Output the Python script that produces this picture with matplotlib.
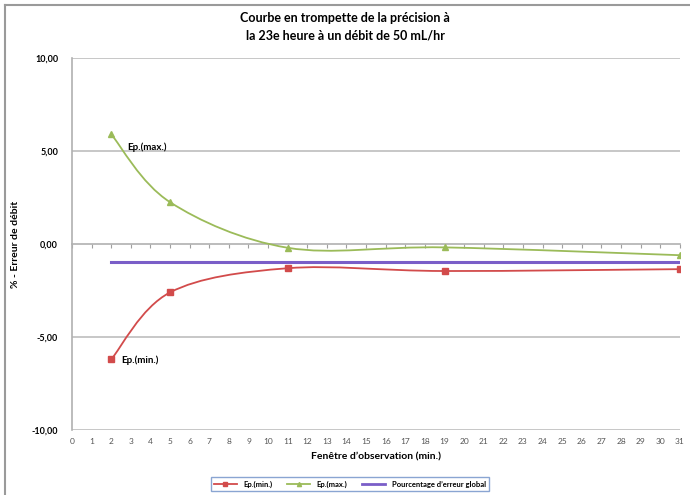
import numpy as np
import matplotlib.pyplot as plt
from matplotlib.path import Path
from matplotlib.patches import PathPatch
from matplotlib.lines import Line2D

plt.rcParams['font.family'] = ['Lato', 'DejaVu Sans']

# data
fenetre = [2, 5, 11, 19, 31]
ep_max = [5.90, 2.25, -0.20, -0.18, -0.60]
ep_min = [-6.20, -2.60, -1.30, -1.45, -1.35]
global_x = [2, 31]
global_err = [-0.98, -0.98]
x_ticks = list(range(0, 32))
y_ticks = [-10, -5, 0, 5, 10]

RED = "#D24B4B"
GREEN = "#9BBB59"
PURPLE = "#7A5EC8"


def smooth_path(xs, ys):
    # catmull-rom style bezier segments, like excel's smoothed lines
    xs = np.asarray(xs, float)
    ys = np.asarray(ys, float)
    pts = np.column_stack([xs, ys])
    verts = [pts[0]]
    codes = [Path.MOVETO]
    n = len(pts)
    for i in range(n - 1):
        p0 = pts[i - 1] if i > 0 else pts[i]
        p1 = pts[i]
        p2 = pts[i + 1]
        p3 = pts[i + 2] if i + 2 < n else pts[i + 1]
        c1 = p1 + (p2 - p0) / 6.0
        c2 = p2 - (p3 - p1) / 6.0
        verts += [c1, c2, p2]
        codes += [Path.CURVE4] * 3
    return Path(verts, codes)


fig = plt.figure(figsize=(6.9, 4.95), dpi=100)
ax = fig.add_axes([0.1043, 0.131, 0.881, 0.752])

for yv in [-10, -5, 5, 10]:
    ax.axhline(yv, color="#BDBDBD", lw=1.2, zorder=1)

ax.add_patch(PathPatch(smooth_path(fenetre, ep_min), fill=False, ec=RED, lw=1.3, zorder=3))
ax.add_patch(PathPatch(smooth_path(fenetre, ep_max), fill=False, ec=GREEN, lw=1.3, zorder=3))
ax.plot(fenetre, ep_min, ls="none", marker="s", ms=5, color=RED, zorder=4, label="Ep.(min.)")
ax.plot(fenetre, ep_max, ls="none", marker="^", ms=5, color=GREEN, zorder=4, label="Ep.(max.)")
ax.plot(global_x, global_err, color=PURPLE, lw=2.2, zorder=2, label="Pourcentage d\u2019erreur global")

ax.text(fenetre[0] + 0.8, ep_max[0] - 0.7, "Ep.(max.)", fontsize=7, fontweight="bold", va="center")
ax.text(fenetre[0] + 0.5, ep_min[0] - 0.05, "Ep.(min.)", fontsize=7, fontweight="bold", va="center")

ax.set_xlim(0, 31)
ax.set_ylim(-10, 10)
ax.set_yticks(y_ticks)
ax.set_yticklabels([f"{v:.2f}".replace(".", ",") for v in y_ticks], fontsize=6.5, fontweight="bold")
ax.tick_params(axis="y", length=0, pad=10)

# x axis line sits at zero with small ticks; labels go under the bottom
ax.spines["bottom"].set_position(("data", 0))
ax.spines["bottom"].set_color("#B0B0B0")
ax.spines["bottom"].set_linewidth(1.2)
ax.spines["top"].set_visible(False)
ax.spines["right"].set_visible(False)
ax.spines["left"].set_color("#B0B0B0")
ax.spines["left"].set_linewidth(1.2)
ax.set_xticks(x_ticks)
ax.tick_params(axis="x", direction="out", length=3, color="#A0A0A0", labelbottom=False)

sec = ax.secondary_xaxis("bottom")
sec.set_xticks(x_ticks)
sec.set_xticklabels([str(v) for v in x_ticks], fontsize=6, color="#555555")
sec.tick_params(length=0, pad=6)
sec.spines["bottom"].set_visible(False)
sec.set_xlabel("Fen\u00eatre d\u2019observation (min.)", fontsize=7.5, fontweight="bold", labelpad=5)

ax.set_ylabel("% - Erreur de d\u00e9bit", fontsize=7.5, fontweight="bold")
ax.yaxis.set_label_coords(-0.085, 0.5)

fig.suptitle("Courbe en trompette de la pr\u00e9cision \u00e0\nla 23e heure \u00e0 un d\u00e9bit de 50 mL/hr",
             x=0.5, y=0.975, fontsize=9, fontweight="bold", linespacing=1.5)

h_min = Line2D([], [], color=RED, marker="s", ms=3, lw=1.3)
h_max = Line2D([], [], color=GREEN, marker="^", ms=3, lw=1.3)
h_glob = Line2D([], [], color=PURPLE, lw=2)
leg = fig.legend([h_min, h_max, h_glob],
                 ["Ep.(min.)", "Ep.(max.)", "Pourcentage d\u2019erreur global"],
                 loc="center", bbox_to_anchor=(0.507, 0.022), ncol=3,
                 frameon=True, fancybox=False, handlelength=3, columnspacing=2.0,
                 borderpad=0.4, prop={"weight": "bold", "size": 5.5})
leg.get_frame().set_edgecolor("#6D8FC7")
leg.get_frame().set_linewidth(1)

# outer chart border (left and top visible)
fig.add_artist(Line2D([0.007, 0.007], [0.0, 0.99], color="#9A9A9A", lw=1.5, transform=fig.transFigure))
fig.add_artist(Line2D([0.007, 1.0], [0.99, 0.99], color="#9A9A9A", lw=1.5, transform=fig.transFigure))

fig.savefig("out.png", dpi=100)
